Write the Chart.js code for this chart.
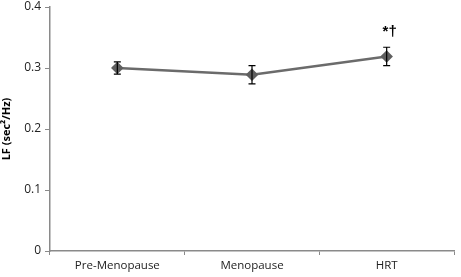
<!DOCTYPE html>
<html><head><meta charset="utf-8">
<script src="https://cdn.jsdelivr.net/npm/chart.js@4/dist/chart.umd.min.js"></script>
<style>html,body{margin:0;padding:0;background:#fff}#w{width:461px;height:277px}</style>
</head><body><div id="w"><canvas id="c"></canvas></div>
<script>
const categories = ["Pre-Menopause", "Menopause", "HRT"];
const lfValues = [0.30, 0.289, 0.319];
const lfErrors = [0.010, 0.015, 0.015];
const annotations = ["", "", "*\u2020"];
const yTicks = [0, 0.1, 0.2, 0.3, 0.4];

const errorBarPlugin = {
  id: 'errbars',
  afterDatasetsDraw(chart) {
    const ctx = chart.ctx, xs = chart.scales.x, ys = chart.scales.y;
    ctx.save();
    ctx.strokeStyle = '#000'; ctx.lineWidth = 1.2;
    lfValues.forEach((v, i) => {
      const x = xs.getPixelForValue(i);
      const yt = ys.getPixelForValue(v + lfErrors[i]);
      const yb = ys.getPixelForValue(v - lfErrors[i]);
      ctx.beginPath();
      ctx.moveTo(x, yt); ctx.lineTo(x, yb);
      ctx.moveTo(x - 3.5, yt); ctx.lineTo(x + 3.5, yt);
      ctx.moveTo(x - 3.5, yb); ctx.lineTo(x + 3.5, yb);
      ctx.stroke();
      if (annotations[i]) {
        ctx.fillStyle = '#000';
        ctx.font = 'bold 15px "Liberation Sans", sans-serif';
        ctx.textAlign = 'center'; ctx.textBaseline = 'bottom';
        ctx.fillText(annotations[i], x + 3, yt - 8);
      }
    });
    ctx.restore();
  }
};

new Chart(document.getElementById('c'), {
  type: 'line',
  data: {
    labels: categories,
    datasets: [{
      data: lfValues,
      borderColor: '#6b6b6b',
      borderWidth: 2.5,
      pointStyle: 'rectRot',
      pointRadius: 4.5,
      pointBackgroundColor: '#5f5f5f',
      pointBorderColor: '#5f5f5f',
      tension: 0
    }]
  },
  options: {
    responsive: true, maintainAspectRatio: false, animation: false,
    layout: { padding: { left: 0, right: 3, top: 5, bottom: 0 } },
    plugins: { legend: { display: false }, tooltip: { enabled: false } },
    scales: {
      x: {
        offset: true,
        grid: { offset: true, drawOnChartArea: false, drawTicks: true, tickLength: 4, color: '#8a8a8a' },
        border: { color: '#8a8a8a', width: 1.5 },
        ticks: { color: '#222', font: { family: '"Open Sans", sans-serif', size: 11.5 }, padding: 4, maxRotation: 0 },
        afterFit(s) { s.height = 26; }
      },
      y: {
        min: 0, max: 0.4,
        afterBuildTicks(s) { s.ticks = yTicks.map(v => ({ value: v })); },
        grid: { drawOnChartArea: false, drawTicks: true, tickLength: 5, color: '#8a8a8a' },
        border: { color: '#8a8a8a', width: 1.5 },
        ticks: { color: '#222', font: { family: '"Open Sans", sans-serif', size: 12 }, padding: 4,
          callback: v => (v === 0 ? '0' : v.toFixed(1)) },
        title: { display: true, text: 'LF (sec\u00B2/Hz)', color: '#000', font: { family: '"Open Sans", sans-serif', size: 11, weight: 'bold' }, padding: { top: 0, bottom: 2 } },
        afterFit(s) { s.width = 50; s.paddingTop = 0; s.paddingBottom = 0; }
      }
    }
  },
  plugins: [errorBarPlugin]
});
</script></body></html>
